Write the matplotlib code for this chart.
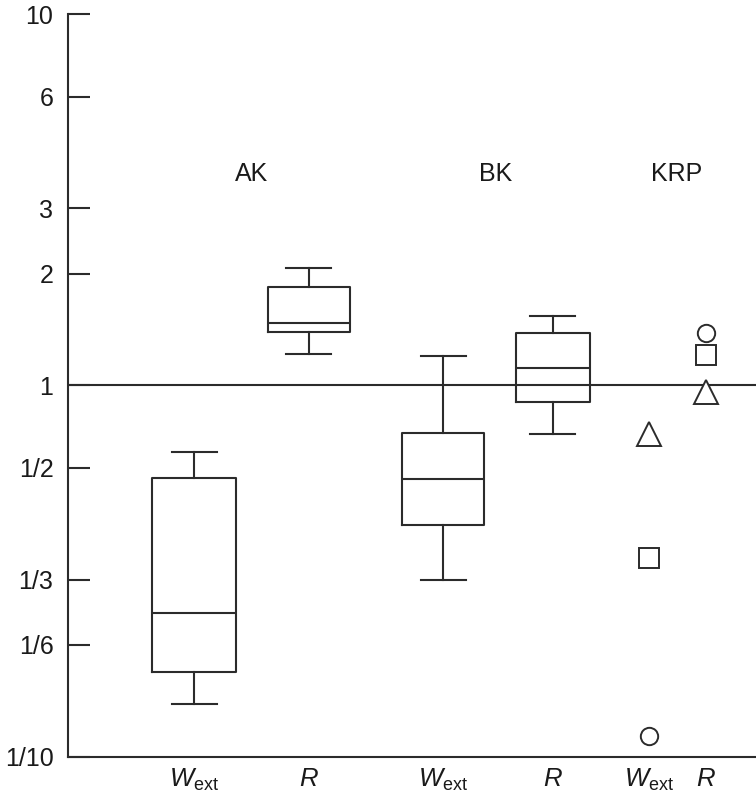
import matplotlib
matplotlib.use("Agg")
import matplotlib.pyplot as plt
from matplotlib.ticker import FixedLocator, NullLocator, NullFormatter

plt.rcParams['font.family'] = ['Liberation Sans', 'DejaVu Sans']
plt.rcParams['mathtext.fontset'] = 'custom'
plt.rcParams['mathtext.rm'] = 'Liberation Sans'
plt.rcParams['mathtext.it'] = 'Liberation Sans:italic'

# ---- data ----
groups = ["AK", "BK", "KRP"]
# box stats: [whislo, q1, median, q3, whishi]
ak_wext = [0.139, 0.169, 0.244, 0.562, 0.661]
ak_r = [1.216, 1.393, 1.476, 1.845, 2.069]
bk_wext = [0.299, 0.421, 0.559, 0.743, 1.203]
bk_r = [0.742, 0.901, 1.117, 1.388, 1.542]
# KRP individual points: circle, square, triangle
krp_wext = [0.114, 0.342, 0.740]
krp_r = [1.388, 1.208, 0.962]
xtick_labels = [r"$W_{\mathrm{ext}}$", r"$R$", r"$W_{\mathrm{ext}}$", r"$R$",
                r"$W_{\mathrm{ext}}$", r"$R$"]
ytick_values = [0.1, 0.2, 0.3, 0.6, 1, 2, 3, 6, 10]
ytick_labels = ["1/10", "1/6", "1/3", "1/2", "1", "2", "3", "6", "10"]

# ---- layout ----
W, H = 756, 800
positions = [126, 240.5, 375, 484.5, 581, 638]
box_widths = [84, 82, 82, 74]
cap_widths = [45, 45, 45, 45]
col = "#2b2b2b"
lw = 1.5

fig = plt.figure(figsize=(W / 100, H / 100), dpi=100)
ax = fig.add_axes([68 / W, 1 - 756.7 / H, 1 - 68 / W, (756.7 - 14.3) / H])
ax.set_yscale("log")
ax.set_ylim(0.1, 10)
ax.set_xlim(0, 688)

ax.axhline(1, color=col, lw=lw, zorder=1)

stats = []
for s in [ak_wext, ak_r, bk_wext, bk_r]:
    stats.append(dict(whislo=s[0], q1=s[1], med=s[2], q3=s[3], whishi=s[4], fliers=[]))
props = dict(color=col, linewidth=lw)
ax.bxp(stats, positions=positions[:4], widths=box_widths, capwidths=cap_widths,
       showfliers=False, boxprops=props, whiskerprops=props, capprops=props,
       medianprops=props, manage_ticks=False, zorder=2)

markers = ["o", "s", "^"]
msizes = [12.5, 14, 17]
for xpos, vals in [(positions[4], krp_wext), (positions[5], krp_r)]:
    for v, m, ms in zip(vals, markers, msizes):
        ax.plot([xpos], [v], marker=m, ms=ms, mfc="white", mec=col, mew=1.4,
                linestyle="none", zorder=3)

for sp in ["top", "right"]:
    ax.spines[sp].set_visible(False)
for sp in ["left", "bottom"]:
    ax.spines[sp].set_color(col)
    ax.spines[sp].set_linewidth(lw)

ax.yaxis.set_major_locator(FixedLocator(ytick_values))
ax.yaxis.set_minor_locator(NullLocator())
ax.yaxis.set_minor_formatter(NullFormatter())
ax.set_yticklabels(ytick_labels)
ax.tick_params(axis="y", direction="in", length=15.8, width=lw, color=col,
               pad=10.5, labelsize=18, labelcolor="#1a1a1a")

ax.set_xticks(positions)
ax.set_xticklabels(xtick_labels)
ax.tick_params(axis="x", length=0, pad=7.5, labelsize=18.5, labelcolor="#1a1a1a")

group_px = [(252, 174), (495.5, 174), (677, 174)]
for g, (px, py) in zip(groups, group_px):
    fig.text(px / W, 1 - py / H, g, ha="center", va="center", fontsize=18,
             color="#1a1a1a")

fig.savefig("out.png", dpi=100, facecolor="white")
